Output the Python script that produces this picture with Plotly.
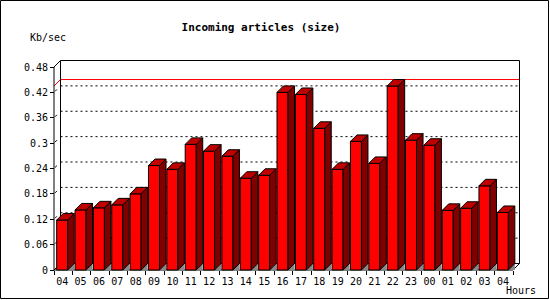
import plotly.graph_objects as go

# ---------------- data ----------------
hours = ["04", "05", "06", "07", "08", "09", "10", "11", "12", "13", "14", "15",
         "16", "17", "18", "19", "20", "21", "22", "23", "00", "01", "02", "03", "04"]
values = [0.118, 0.142, 0.147, 0.154, 0.180, 0.247, 0.238, 0.297, 0.281, 0.269,
          0.217, 0.224, 0.420, 0.415, 0.335, 0.238, 0.304, 0.252, 0.435, 0.307,
          0.295, 0.141, 0.146, 0.199, 0.136]
y_ticks = [0, 0.06, 0.12, 0.18, 0.24, 0.30, 0.36, 0.42, 0.48]
y_tick_labels = ["0", "0.06", "0.12", "0.18", "0.24", "0.3", "0.36", "0.42", "0.48"]
title_text = "Incoming articles (size)"
y_title = "Kb/sec"
x_title = "Hours"

# ---------------- geometry ----------------
W, H = 550, 300
L, R, T, B = 48, 25, 55, 25
X0PX, X25PX = 54, 513          # pixel of x=0 and x=25 (front)
Y0PX, YTOPPX = 270, 67          # pixel of y=0 and y=0.48 (front)
n = len(hours)
ymax_tick = y_ticks[-1]
kx = (X25PX - X0PX) / n
ky = (Y0PX - YTOPPX) / ymax_tick
xr = [(L - X0PX) / kx, (W - R - X0PX) / kx]
yr = [(Y0PX - (H - B)) / ky, (Y0PX - T) / ky]
DEPTH = 6.5
dx, dy = DEPTH / kx, DEPTH / ky
BAR_OFF, BAR_W = 0.146, 0.6
LBL_OFF = 0.45


def px2paper_x(px):
    return (px - L) / (W - L - R)


def px2paper_y(py):
    return (H - B - py) / (H - T - B)


FONT = "DejaVu Sans Mono"
shapes = []


def seg(x0, y0, x1, y1, color="black", dash="solid", width=1):
    shapes.append(dict(type="line", xref="x", yref="y", x0=x0, y0=y0, x1=x1, y1=y1,
                       layer="below", line=dict(color=color, width=width, dash=dash)))


# gridlines on back wall
for v in y_ticks[1:-1]:
    seg(dx, v + dy, n + dx, v + dy, dash="2px,3px")
    seg(0.15 * dx, v + 0.15 * dy, 0.45 * dx, v + 0.45 * dy)

# max line (red)
vmax = max(values)
seg(0, vmax, dx, vmax + dy, color="#ff0000")
seg(dx, vmax + dy, n + dx, vmax + dy, color="#ff0000")

# walls / axes outline
seg(dx, dy, dx, ymax_tick + dy)
seg(dx, ymax_tick + dy, n + dx, ymax_tick + dy)
seg(n + dx, ymax_tick + dy, n + dx, dy)
seg(0, ymax_tick, dx, ymax_tick + dy)
seg(0, 0, 0, ymax_tick)
seg(0, 0, n, 0)
seg(n, 0, n + dx, dy)
seg(0, 0, dx, dy)
seg(dx, dy, n + dx, dy)

# outer frame
shapes.append(dict(type="rect", xref="paper", yref="paper",
                   x0=px2paper_x(0.5), x1=px2paper_x(548.5),
                   y0=px2paper_y(298.5), y1=px2paper_y(0.5),
                   line=dict(color="black", width=1), layer="above"))

fig = go.Figure()

# front faces
fig.add_trace(go.Bar(
    x=[i + BAR_OFF + BAR_W / 2 for i in range(n)], y=values, width=BAR_W,
    marker=dict(color="#ff0000", line=dict(color="black", width=1)),
    hoverinfo="skip", showlegend=False))

# floor shadows, side faces, top faces
gx, gy, sx, sy, tx, ty = [], [], [], [], [], []
for i, v in enumerate(values):
    a = i + BAR_OFF
    b = a + BAR_W
    gx += [b, b + dx, b + dx, b, None]
    gy += [0, dy, 0, 0, None]
    sx += [b, b, b + dx, b + dx, b, None]
    sy += [0, v, v + dy, dy, 0, None]
    tx += [a, a + dx, b + dx, b, a, None]
    ty += [v, v + dy, v + dy, v, v, None]

fig.add_trace(go.Scatter(x=gx, y=gy, mode="lines", fill="toself", fillcolor="#888888",
                         line=dict(width=0, color="#888888"), hoverinfo="skip", showlegend=False))
fig.add_trace(go.Scatter(x=sx, y=sy, mode="lines", fill="toself", fillcolor="#800000",
                         line=dict(width=1, color="black"), hoverinfo="skip", showlegend=False))
fig.add_trace(go.Scatter(x=tx, y=ty, mode="lines", fill="toself", fillcolor="#c00000",
                         line=dict(width=1, color="black"), hoverinfo="skip", showlegend=False))

fig.update_layout(
    width=W, height=H, margin=dict(l=L, r=R, t=T, b=B, pad=0),
    paper_bgcolor="white", plot_bgcolor="white",
    shapes=shapes, showlegend=False,
    font=dict(family=FONT, size=10, color="black"),
    title=dict(text="<b>" + title_text + "</b>", font=dict(family=FONT, size=11, color="black"),
               xref="container", yref="container", x=261 / W, xanchor="center",
               y=1 - 27 / H, yanchor="middle"),
    xaxis=dict(range=xr, showgrid=False, zeroline=False, showline=False,
               anchor="free", position=px2paper_y(Y0PX),
               tickmode="array", tickvals=[i + LBL_OFF for i in range(n)], ticktext=hours,
               ticks="", ticklabelstandoff=4,
               tickfont=dict(family=FONT, size=10, color="black"),
               minor=dict(tickmode="array", tickvals=list(range(n + 1)), ticks="outside",
                          ticklen=4, tickcolor="black", tickwidth=1, showgrid=False)),
    yaxis=dict(range=yr, showgrid=False, zeroline=False, showline=False,
               anchor="free", position=px2paper_x(X0PX),
               tickmode="array", tickvals=y_ticks, ticktext=y_tick_labels,
               ticks="outside", ticklen=4, tickcolor="black", tickwidth=1,
               tickfont=dict(family=FONT, size=10, color="black")),
    annotations=[
        dict(text=y_title, xref="paper", yref="paper", x=px2paper_x(28), y=px2paper_y(37),
             xanchor="left", yanchor="middle", showarrow=False,
             font=dict(family=FONT, size=10, color="black")),
        dict(text=x_title, xref="paper", yref="paper", x=px2paper_x(504), y=px2paper_y(290),
             xanchor="left", yanchor="middle", showarrow=False,
             font=dict(family=FONT, size=10, color="black")),
    ],
)

fig.write_html("out.html")
